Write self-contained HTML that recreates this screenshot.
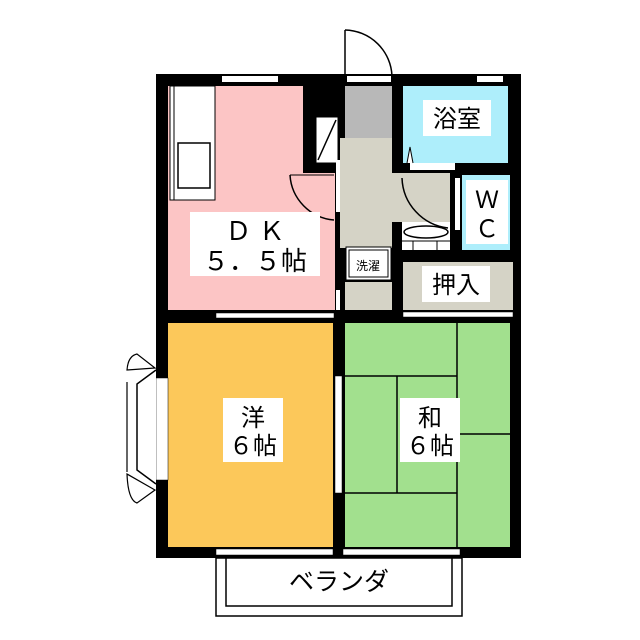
<!DOCTYPE html>
<html><head><meta charset="utf-8"><style>
body{margin:0;background:#fff;}
svg{display:block}
text{font-family:"Liberation Sans","Noto Sans CJK JP",sans-serif;fill:#000}
</style></head><body>
<svg width="640" height="640" viewBox="0 0 640 640" xmlns="http://www.w3.org/2000/svg">
<!-- entry door arc -->
<path d="M345 30 A48 48 0 0 1 392 76" fill="none" stroke="#000" stroke-width="1.5"/>
<line x1="345" y1="30" x2="345" y2="76" stroke="#000" stroke-width="1.5"/>
<!-- building body -->
<rect x="156" y="74" width="365" height="484" fill="#000"/>
<!-- DK -->
<rect x="168" y="86" width="135" height="224" fill="#fcc5c5"/>
<rect x="303" y="173" width="32" height="137" fill="#fcc5c5"/>
<!-- kitchen counter -->
<rect x="170" y="86" width="45" height="114" fill="#fff" stroke="#000" stroke-width="1"/>
<line x1="174" y1="86" x2="174" y2="200" stroke="#000"/>
<rect x="178" y="143" width="32" height="45" fill="#fff" stroke="#000" stroke-width="1.5"/>
<!-- shoe box -->
<rect x="316" y="117" width="22" height="46" fill="#fff" stroke="#000"/>
<line x1="318" y1="160" x2="336" y2="120" stroke="#000" stroke-width="1.5"/>
<!-- entry -->
<rect x="345" y="86" width="47" height="52" fill="#b8b8b8"/>
<rect x="340" y="138" width="52" height="110" fill="#d5d3c6"/>
<rect x="392" y="173" width="58" height="49" fill="#d5d3c6"/>
<rect x="345" y="282" width="47" height="28" fill="#d5d3c6"/>
<!-- bath -->
<rect x="403" y="86" width="105" height="77" fill="#aeeefb"/>
<rect x="410" y="163" width="45" height="7" fill="#fff"/>
<path d="M407 163 L410 147 L413 163" fill="#fff" stroke="#000"/>
<!-- WC -->
<rect x="462" y="175" width="48" height="75" fill="#aeeefb"/>
<rect x="455" y="178" width="5" height="52" fill="#fff"/>
<!-- basin -->
<rect x="402" y="222" width="48" height="28" fill="#fff"/>
<ellipse cx="426" cy="232" rx="22" ry="6" fill="#fff" stroke="#000" stroke-width="1.5"/>
<line x1="402" y1="241" x2="450" y2="241" stroke="#000"/>
<line x1="413" y1="241" x2="413" y2="250" stroke="#000"/><line x1="437" y1="241" x2="437" y2="250" stroke="#000"/>
<path d="M402 178 A52 52 0 0 0 448 228" fill="none" stroke="#000" stroke-width="1.5"/>
<!-- washer -->
<rect x="346" y="247" width="45" height="33" fill="#fff" stroke="#000"/>
<rect x="349" y="250" width="39" height="27" fill="#fff" stroke="#000"/>
<text x="368" y="270" font-size="12" text-anchor="middle">洗濯</text>
<!-- oshiire -->
<rect x="403" y="262" width="110" height="48" fill="#d5d3c6"/>
<!-- doors in DK -->
<rect x="336" y="160" width="4" height="52" fill="#fff"/>
<path d="M290 175 A48 48 0 0 0 334 220" fill="none" stroke="#000" stroke-width="1.5"/>
<line x1="290" y1="175" x2="334" y2="175" stroke="#000" stroke-width="1"/>
<rect x="336" y="290" width="4" height="20" fill="#fff"/>
<!-- windows top -->
<rect x="222" y="76" width="56" height="6" fill="#fff"/>
<rect x="347" y="76" width="44" height="6" fill="#fff"/>
<rect x="477" y="76" width="26" height="6" fill="#fff"/>
<!-- rooms -->
<rect x="168" y="323" width="165" height="224" fill="#fcc85a"/>
<rect x="345" y="323" width="165" height="224" fill="#a2e08e"/>
<g stroke="#000" stroke-width="1.5" fill="none">
<line x1="345" y1="376" x2="457" y2="376"/>
<line x1="457" y1="323" x2="457" y2="547"/>
<line x1="397" y1="376" x2="397" y2="493"/>
<line x1="345" y1="493" x2="457" y2="493"/>
<line x1="457" y1="434" x2="510" y2="434"/>
</g>
<!-- sliding doors between rooms -->
<rect x="216" y="313" width="118" height="5" fill="#fff" stroke="#000" stroke-width="0.5"/>
<rect x="403" y="312" width="110" height="5" fill="#fff" stroke="#000" stroke-width="0.5"/>
<rect x="335" y="376" width="7" height="117" fill="#fff" stroke="#000" stroke-width="0.5"/>
<!-- bottom windows -->
<rect x="216" y="549" width="117" height="6" fill="#fff" stroke="#000" stroke-width="0.5"/>
<rect x="343" y="549" width="117" height="6" fill="#fff" stroke="#000" stroke-width="0.5"/>
<!-- left bay window -->
<rect x="156" y="378" width="12" height="102" fill="#fff" stroke="#000" stroke-width="0.5"/>
<path d="M156 370 L137 384 L137 470 L156 484" fill="#fff" stroke="#000" stroke-width="1.5"/>
<path d="M127 370 Q128 356 137 354 L155 368 Z" fill="#fff" stroke="#000" stroke-width="1.2"/>
<path d="M127 474 Q128 500 137 503 L155 490 Z" fill="#fff" stroke="#000" stroke-width="1.2"/>
<line x1="127" y1="382" x2="127" y2="472" stroke="#000" stroke-width="1.2"/>
<!-- balcony -->
<rect x="216" y="558" width="246" height="58" fill="#fff" stroke="#000" stroke-width="1.5"/>
<rect x="226" y="558" width="226" height="48" fill="#fff" stroke="#000" stroke-width="1.5"/>
<text x="339" y="590" font-size="25" text-anchor="middle">ベランダ</text>
<!-- labels -->
<rect x="190" y="212" width="130" height="64" fill="#fff"/>
<text x="255" y="240" font-size="26" text-anchor="middle">Ｄ Ｋ</text>
<text x="255" y="270" font-size="26" text-anchor="middle">５．５帖</text>
<rect x="423" y="100" width="68" height="36" fill="#fff"/>
<text x="457" y="127" font-size="24" text-anchor="middle">浴室</text>
<rect x="466" y="180" width="42" height="64" fill="#fff"/>
<text x="487" y="208" font-size="24" text-anchor="middle">Ｗ</text>
<text x="487" y="237" font-size="24" text-anchor="middle">Ｃ</text>
<rect x="422" y="266" width="68" height="36" fill="#fff"/>
<text x="456" y="293" font-size="24" text-anchor="middle">押入</text>
<rect x="223" y="398" width="60" height="64" fill="#fff"/>
<text x="253" y="426" font-size="24" text-anchor="middle">洋</text>
<text x="253" y="454" font-size="24" text-anchor="middle">６帖</text>
<rect x="400" y="398" width="60" height="64" fill="#fff"/>
<text x="430" y="426" font-size="24" text-anchor="middle">和</text>
<text x="430" y="454" font-size="24" text-anchor="middle">６帖</text>
</svg>
</body></html>
